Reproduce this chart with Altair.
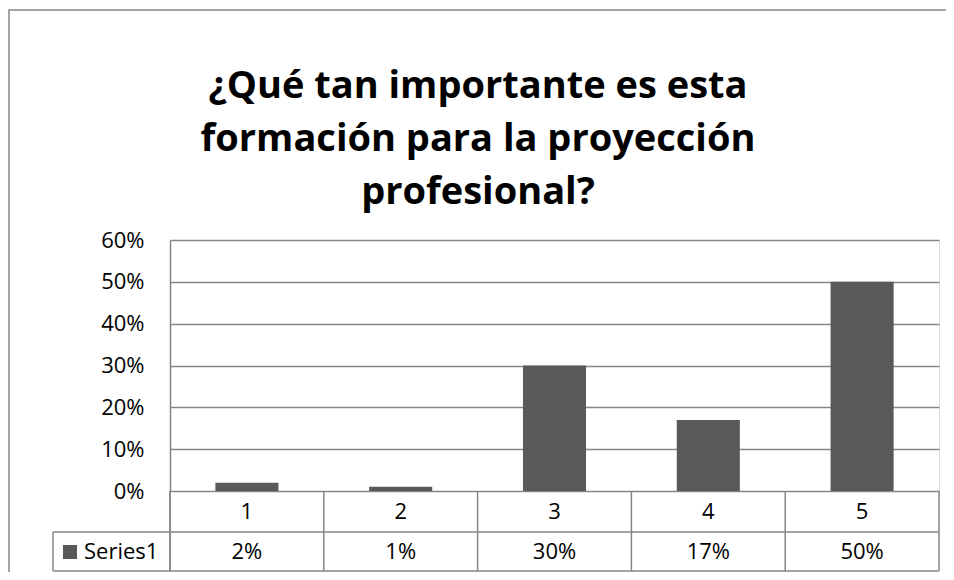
import altair as alt
import pandas as pd

# ---- data ----
categories = ["1", "2", "3", "4", "5"]
values = [0.02, 0.01, 0.30, 0.17, 0.50]
series_name = "Series1"
title_lines = ["¿Qué tan importante es esta", "formación para la proyección", "profesional?"]
y_ticks = [0, 0.1, 0.2, 0.3, 0.4, 0.5, 0.6]

df = pd.DataFrame({"cat": categories, "val": values})
one = pd.DataFrame({"k": [0]})

W, H = 769, 251
FONT = "Open Sans"
GRID = "#868686"
BAR = "#595959"
ROW1_BOTTOM = 292
ROW2_BOTTOM = 331
LEFT_COL = -117

xscale = alt.Scale(domain=categories, paddingInner=0, paddingOuter=0)


def xenc(bp=0.5):
    return alt.X("cat:N", scale=xscale, axis=None, sort=categories, bandPosition=bp)


def hline(y, x1, x2):
    return alt.Chart(one).mark_rule(color=GRID, strokeWidth=1.5).encode(
        x=alt.value(x1), x2=alt.value(x2), y=alt.value(y))


def vline(x, y1, y2):
    return alt.Chart(one).mark_rule(color=GRID, strokeWidth=1.5).encode(
        x=alt.value(x), y=alt.value(y1), y2=alt.value(y2))


border = alt.Chart(one).mark_rect(fillOpacity=0, stroke=GRID, strokeWidth=1.5).encode(
    x=alt.value(-161), x2=alt.value(W + 300), y=alt.value(-230), y2=alt.value(H + 300))

bars = alt.Chart(df).mark_bar(color=BAR, width=alt.RelativeBandSize(0.41)).encode(
    x=xenc(),
    y=alt.Y("val:Q",
            scale=alt.Scale(domain=[0, 0.6], nice=False, zero=True),
            axis=alt.Axis(values=y_ticks, format=".0%", grid=True, gridColor=GRID,
                          gridWidth=1.5, domainColor=GRID, domainWidth=1.5, ticks=False,
                          labelFontSize=22, labelFont=FONT, labelColor="#000",
                          labelPadding=26, title=None)),
)

col_lines = alt.Chart(df).mark_rule(color=GRID, strokeWidth=1.5).encode(
    x=xenc(0), y=alt.value(H), y2=alt.value(ROW2_BOTTOM))

cat_text = alt.Chart(df).mark_text(font=FONT, fontSize=22, color="#000").encode(
    x=xenc(), y=alt.value((H + ROW1_BOTTOM) / 2), text="cat:N")

val_text = alt.Chart(df).mark_text(font=FONT, fontSize=22, color="#000").encode(
    x=xenc(), y=alt.value((ROW1_BOTTOM + ROW2_BOTTOM) / 2),
    text=alt.Text("val:Q", format=".0%"))

swatch = alt.Chart(one).mark_rect(color=BAR).encode(
    x=alt.value(-107), x2=alt.value(-93), y=alt.value(305), y2=alt.value(319))

series_text = alt.Chart(pd.DataFrame({"s": [series_name]})).mark_text(
    font=FONT, fontSize=22, color="#000", align="left").encode(
    x=alt.value(-86), y=alt.value((ROW1_BOTTOM + ROW2_BOTTOM) / 2), text="s:N")

title = alt.Chart(pd.DataFrame({"t": ["\n".join(title_lines)]})).mark_text(
    font=FONT, fontSize=38, fontWeight="bold", color="#000", lineBreak="\n",
    lineHeight=53, baseline="alphabetic", align="center").encode(
    x=alt.value(308), y=alt.value(-142), text="t:N")

chart = alt.layer(
    border,
    bars,
    vline(0, H, ROW2_BOTTOM),
    col_lines,
    vline(W, H, ROW2_BOTTOM),
    vline(LEFT_COL, ROW1_BOTTOM, ROW2_BOTTOM),
    hline(ROW1_BOTTOM, LEFT_COL, W),
    hline(ROW2_BOTTOM, LEFT_COL, W),
    cat_text,
    val_text,
    swatch,
    series_text,
    title,
).properties(
    width=W, height=H,
    padding={"left": 162, "top": 232, "right": 7, "bottom": 81},
    autosize=alt.AutoSizeParams(type="none"),
).configure_view(stroke=None).configure(background="white")

chart.save("out.html", embed_options={"renderer": "svg", "actions": False})
